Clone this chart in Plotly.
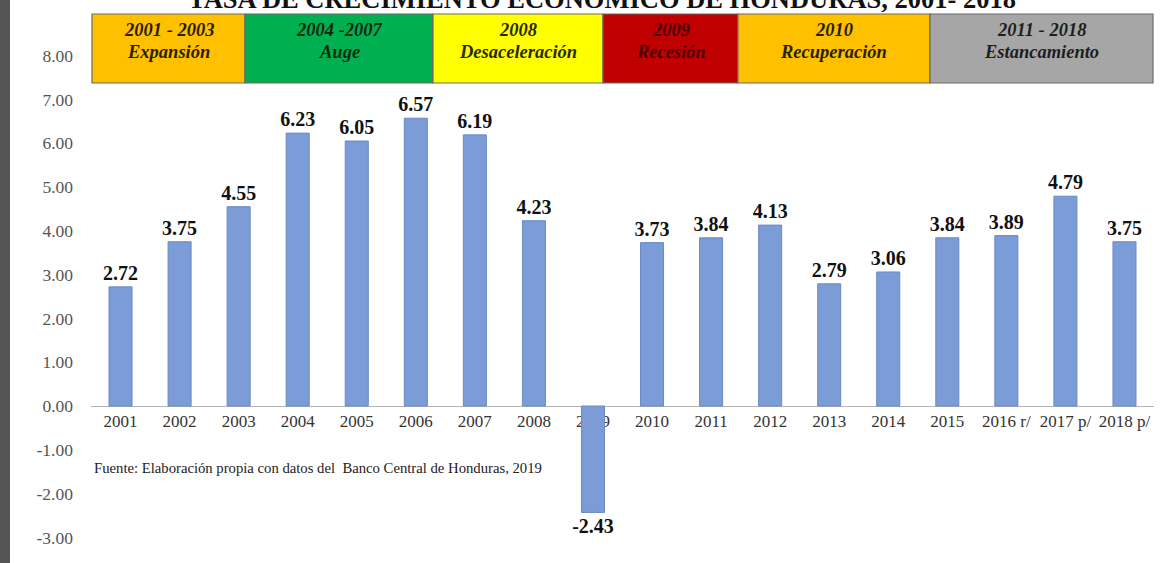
import plotly.graph_objects as go

# ---- data ----
years = ["2001", "2002", "2003", "2004", "2005", "2006", "2007", "2008", "2009",
         "2010", "2011", "2012", "2013", "2014", "2015", "2016 r/", "2017 p/", "2018 p/"]
growth = [2.72, 3.75, 4.55, 6.23, 6.05, 6.57, 6.19, 4.23, -2.43,
          3.73, 3.84, 4.13, 2.79, 3.06, 3.84, 3.89, 4.79, 3.75]
ytick_vals = [-3, -2, -1, 0, 1, 2, 3, 4, 5, 6, 7, 8]

phase_periods = ["2001 - 2003", "2004 -2007", "2008", "2009", "2010", "2011 - 2018"]
phase_names = ["Expansión", "Auge", "Desaceleración", "Recesión", "Recuperación", "Estancamiento"]
phase_colors = ["#FFC000", "#00B050", "#FFFF00", "#C00000", "#FFC000", "#A6A6A6"]
phase_text_colors = ["#2a1e00", "#0b2a10", "#2a2a00", "#4a0000", "#2a1e00", "#1e1e1e"]
# box edges in pixel columns of the reference image
phase_edges_px = [92, 245, 433, 603, 738, 930, 1153]

title_text = "TASA DE CRECIMIENTO ECONÓMICO DE HONDURAS, 2001- 2018"
source_text = "Fuente: Elaboración propia con datos del  Banco Central de Honduras, 2019"

# ---- layout geometry ----
W, H = 1161, 563
ML, MR = 91, 7
PW = W - ML - MR
YMIN, YMAX = -3.584, 9.269
SERIF = "Liberation Serif, Times New Roman, serif"


def px_to_paper(px):
    return (px - ML) / PW


def py_to_data(py):
    return YMAX - py / H * (YMAX - YMIN)


fig = go.Figure()
fig.add_trace(go.Bar(
    x=years, y=growth,
    marker=dict(color="#7c9cd8", line=dict(color="#6a89c6", width=1)),
    text=[f"<b>{v:.2f}</b>" for v in growth],
    textposition="outside",
    constraintext="none",
    textfont=dict(family=SERIF, size=20, color="#111111"),
    cliponaxis=False,
    hoverinfo="x+y",
))

shapes = []
annotations = []
# dark strip at left
shapes.append(dict(type="rect", xref="paper", yref="paper",
                   x0=px_to_paper(0), x1=px_to_paper(10), y0=0, y1=1,
                   fillcolor="#555555", line=dict(width=0), layer="above"))

# phase boxes
y_top = py_to_data(14)
y_bot = py_to_data(83)
for i in range(len(phase_names)):
    x0 = px_to_paper(phase_edges_px[i])
    x1 = px_to_paper(phase_edges_px[i + 1])
    shapes.append(dict(type="rect", xref="paper", yref="y",
                       x0=x0, x1=x1, y0=y_bot, y1=y_top,
                       fillcolor=phase_colors[i],
                       line=dict(color="#6b6b6b", width=1.2), layer="above"))
    xc = (x0 + x1) / 2
    annotations.append(dict(xref="paper", yref="y", x=xc, y=py_to_data(30),
                            text=f"<b><i>{phase_periods[i]}</i></b>", showarrow=False,
                            font=dict(family=SERIF, size=18.5, color=phase_text_colors[i]),
                            xanchor="center", yanchor="middle"))
    annotations.append(dict(xref="paper", yref="y", x=xc, y=py_to_data(52),
                            text=f"<b><i>{phase_names[i]}</i></b>", showarrow=False,
                            font=dict(family=SERIF, size=18.5, color=phase_text_colors[i]),
                            xanchor="center", yanchor="middle"))

# title (partially cut at the top, as in the reference)
annotations.append(dict(xref="paper", yref="paper", x=px_to_paper(602), y=1,
                        yanchor="bottom", yshift=-16, xanchor="center",
                        text=f"<b>{title_text}</b>", showarrow=False,
                        font=dict(family=SERIF, size=26.5, color="#111111")))

# source note
annotations.append(dict(xref="paper", yref="y", x=px_to_paper(92), y=py_to_data(468),
                        xanchor="left", yanchor="middle",
                        text=source_text, showarrow=False,
                        font=dict(family=SERIF, size=14.7, color="#222222")))

fig.update_layout(
    width=W, height=H,
    margin=dict(l=ML, r=MR, t=0, b=0),
    paper_bgcolor="white", plot_bgcolor="white",
    bargap=0.61,
    showlegend=False,
    shapes=shapes,
    annotations=annotations,
    xaxis=dict(
        type="category",
        anchor="free",
        position=(0 - YMIN) / (YMAX - YMIN),
        showline=True, linecolor="#b5b5b5", linewidth=1,
        showgrid=False, zeroline=False,
        ticks="",
        tickfont=dict(family=SERIF, size=17, color="#333333"),
        layer="below traces",
        tickangle=0,
    ),
    yaxis=dict(
        range=[YMIN, YMAX],
        tickvals=ytick_vals,
        ticktext=[f"{v:.2f}" for v in ytick_vals],
        showgrid=False, zeroline=False, showline=False,
        ticks="",
        ticklabelstandoff=17,
        tickfont=dict(family=SERIF, size=17.5, color="#555555"),
    ),
)

fig.write_html("out.html")
